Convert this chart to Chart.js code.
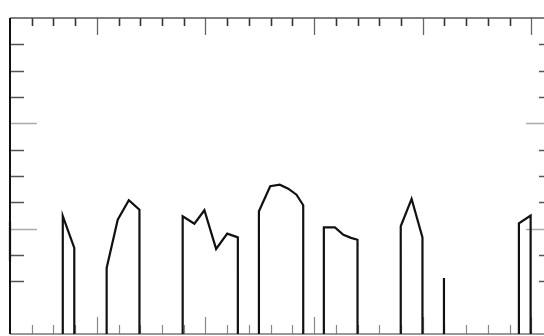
<!DOCTYPE html>
<html>
<head>
<meta charset="utf-8">
<script src="https://cdn.jsdelivr.net/npm/chart.js@4/dist/chart.umd.min.js"></script>
<style>
  html, body { margin: 0; padding: 0; background: #fff; overflow: hidden; }
  #wrap { width: 544px; height: 336px; overflow: hidden; }
</style>
</head>
<body>
<div id="wrap"><canvas id="c" width="560" height="336"></canvas></div>
<script>
// traced signal (x in tick units, y in tick units); null breaks the line
const traceX = [
  0, 0, null,
  2.43, 2.43, 2.96, 2.96, null,
  4.45, 4.45, 4.96, 5.47, 5.96, 5.96, null,
  7.95, 7.95, 8.49, 8.95, 9.49, 10.0, 10.49, 10.49, null,
  11.46, 11.46, 11.98, 12.42, 12.81, 13.19, 13.5, 13.5, null,
  14.45, 14.45, 14.96, 15.35, 15.7, 16.0, 16.0, null,
  17.99, 17.99, 18.49, 18.99, 18.99, null,
  19.98, 19.98, null,
  23.43, 23.43, 23.97, 23.97
]
const traceY = [
  2.75, 4.3, null,
  0, 4.48, 3.27, 0, null,
  0, 2.51, 4.34, 5.08, 4.72, 0, null,
  0, 4.47, 4.19, 4.7, 3.23, 3.81, 3.67, 0, null,
  0, 4.66, 5.61, 5.67, 5.52, 5.29, 4.89, 0, null,
  0, 4.05, 4.05, 3.77, 3.65, 3.58, 0, null,
  0, 4.09, 5.13, 3.67, 0, null,
  0, 2.13, null,
  0, 4.2, 4.5, 0
]
const xTicks = [1, 2, 3, 4, 5, 6, 7, 8, 9, 10, 11, 12, 13, 14, 15, 16, 17, 18, 19, 20, 21, 22, 23, 24]
const xMajor = [4, 9, 14, 19, 24]
const yTicks = [2, 3, 4, 5, 6, 7, 8, 9, 10, 11]
const yMajor = [4, 8]

const points = traceX.map((x, i) => ({ x: x === null ? null : x, y: traceY[i] }))

const frameTicks = {
  id: 'frameTicks',
  beforeDatasetsDraw(chart) {
    const { ctx, chartArea: a, scales } = chart
    ctx.save()
    ctx.lineCap = 'butt'
    // top + bottom ticks
    xTicks.forEach((v) => {
      const px = Math.round(scales.x.getPixelForValue(v)) + 0.5
      const major = xMajor.includes(v)
      ctx.lineWidth = major ? 1.3 : 1.6
      ctx.strokeStyle = major ? '#666' : '#333'
      ctx.beginPath()
      ctx.moveTo(px, a.top)
      ctx.lineTo(px, a.top + (major ? 17 : 8))
      ctx.stroke()
      ctx.strokeStyle = '#888'
      ctx.lineWidth = 1.2
      ctx.beginPath()
      ctx.moveTo(px, a.bottom)
      ctx.lineTo(px, a.bottom - (major ? 17 : 9))
      ctx.stroke()
    })
    // left + right ticks
    yTicks.forEach((v) => {
      const py = Math.round(scales.y.getPixelForValue(v)) + 0.5
      const major = yMajor.includes(v)
      ctx.lineWidth = 1.6
      ctx.strokeStyle = major ? '#aaa' : '#555'
      const len = major ? 27 : 14
      ctx.beginPath()
      ctx.moveTo(a.left, py)
      ctx.lineTo(a.left + len, py)
      ctx.moveTo(a.right, py)
      ctx.lineTo(a.right - len, py)
      ctx.stroke()
    })
    // frame
    ctx.lineWidth = 1.5
    ctx.strokeStyle = '#555'
    ctx.beginPath()
    ctx.moveTo(a.left, a.top)
    ctx.lineTo(a.right, a.top)
    ctx.stroke()
    ctx.strokeStyle = '#777'
    ctx.beginPath()
    ctx.moveTo(a.left, a.bottom)
    ctx.lineTo(a.right, a.bottom)
    ctx.stroke()
    ctx.lineWidth = 2
    ctx.strokeStyle = '#111'
    ctx.beginPath()
    ctx.moveTo(a.left, a.top)
    ctx.lineTo(a.left, a.bottom)
    ctx.stroke()
    ctx.restore()
  }
}

new Chart(document.getElementById('c'), {
  type: 'line',
  data: {
    datasets: [{
      data: points,
      borderColor: '#111',
      borderWidth: 2.2,
      pointRadius: 0,
      tension: 0,
      spanGaps: false,
      clip: false
    }]
  },
  options: {
    responsive: false,
    animation: false,
    devicePixelRatio: 1,
    layout: { padding: { left: 10, top: 18, right: 7, bottom: 2 } },
    plugins: { legend: { display: false }, tooltip: { enabled: false } },
    scales: {
      x: { type: 'linear', min: 0, max: 25, display: false },
      y: { type: 'linear', min: 0, max: 12, display: false }
    }
  },
  plugins: [frameTicks]
})
</script>
</body>
</html>
